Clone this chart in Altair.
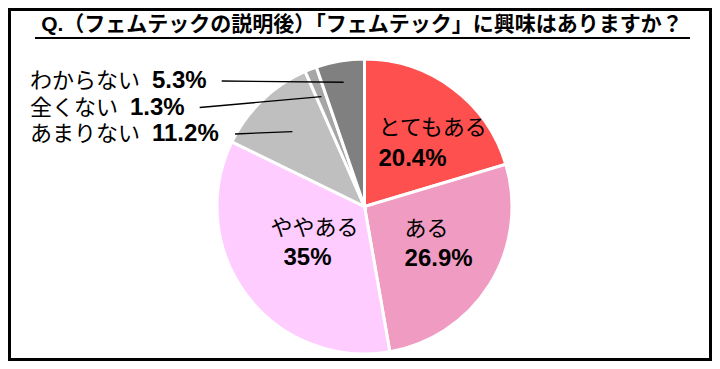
import math
import altair as alt
import pandas as pd

# ---- data -------------------------------------------------------------
categories = ["とてもある", "ある", "ややある", "あまりない", "全くない", "わからない"]
values = [20.4, 26.9, 35.0, 11.2, 1.3, 5.3]
colors = ["#FF5050", "#F09CC2", "#FFCCFF", "#BFBFBF", "#A6A6A6", "#808080"]
outside_labels = ["わからない", "全くない", "あまりない"]  # top to bottom
title_text = "Q.（フェムテックの説明後）「フェムテック」に興味はありますか？"

# ---- layout -----------------------------------------------------------
W, H = 704, 353
CX, CY = 356.5, 198.5
R = 147.5
FONT = "Liberation Sans, Noto Sans CJK JP"
NAME_SIZE = 22
PCT_SIZE = 24

df = pd.DataFrame({"category": categories, "value": values,
                   "order": list(range(len(categories)))})
df["pct"] = [f"{v:g}%" for v in values]

base = alt.Chart(df).encode(
    theta=alt.Theta("value:Q", stack=True),
    order=alt.Order("order:Q", sort="ascending"),
    x=alt.value(CX),
    y=alt.value(CY),
)

pie = base.mark_arc(outerRadius=R, stroke="white", strokeWidth=3).encode(
    color=alt.Color("category:N",
                    scale=alt.Scale(domain=categories, range=colors),
                    legend=None)
)

# labels inside the large slices
inside = {
    "とてもある": dict(radius=80, align="left", name=(-33.8, -14.8), pct=(-33.8, 16.2)),
    "ある": dict(radius=80, align="left", name=(-28, -20), pct=(-28, 10)),
    "ややある": dict(radius=80, align="center", name=(13.9, -27), pct=(6.9, 3)),
}
layers = [pie]
for cat, sp in inside.items():
    test = f"datum.category === '{cat}'"
    layers.append(
        base.mark_text(radius=sp["radius"], align=sp["align"], baseline="middle",
                       dx=sp["name"][0], dy=sp["name"][1], font=FONT,
                       fontSize=NAME_SIZE, color="black").encode(
            text=alt.condition(test, alt.Text("category:N"), alt.value(""))
        )
    )
    layers.append(
        base.mark_text(radius=sp["radius"], align=sp["align"], baseline="middle",
                       dx=sp["pct"][0], dy=sp["pct"][1], font=FONT,
                       fontSize=PCT_SIZE, fontWeight="bold", color="black").encode(
            text=alt.condition(test, alt.Text("pct:N"), alt.value(""))
        )
    )

# outside labels with leader lines
total = sum(values)
cum = 0.0
mids = {}
for c, v in zip(categories, values):
    mids[c] = (cum + v / 2) / total * 2 * math.pi
    cum += v

NAME_X = 22
LABEL_Y0, LABEL_STEP = 73, 26.5
GAP = 12
leader_r = {"わからない": 126, "全くない": 118, "あまりない": 104}


def pct_width(s, size):
    w = 0
    for ch in s:
        w += 0.556 if ch.isdigit() else (0.278 if ch == "." else 0.889)
    return w * size


rows = []
for i, c in enumerate(outside_labels):
    v = values[categories.index(c)]
    p = f"{v:g}%"
    ly = LABEL_Y0 + i * LABEL_STEP
    px = NAME_X + len(c) * NAME_SIZE + GAP
    sx = px + pct_width(p, PCT_SIZE) + 15
    a = mids[c]
    ex = CX + leader_r[c] * math.sin(a)
    ey = CY - leader_r[c] * math.cos(a)
    rows.append(dict(category=c, pct=p, ly=ly, nx=NAME_X, px=px,
                     sx=sx, sy=ly, ex=ex, ey=ey))
odf = pd.DataFrame(rows)
obase = alt.Chart(odf)

names = obase.mark_text(align="left", baseline="middle", font=FONT,
                        fontSize=NAME_SIZE, color="black").encode(
    x=alt.X("nx:Q", scale=None), y=alt.Y("ly:Q", scale=None), text="category:N")
pcts = obase.mark_text(align="left", baseline="middle", font=FONT,
                       fontSize=PCT_SIZE, fontWeight="bold", color="black").encode(
    x=alt.X("px:Q", scale=None), y=alt.Y("ly:Q", scale=None), text="pct:N")
leaders = obase.mark_rule(color="black", strokeWidth=1.3).encode(
    x=alt.X("sx:Q", scale=None), y=alt.Y("sy:Q", scale=None),
    x2="ex:Q", y2="ey:Q")
layers += [names, pcts, leaders]

# title, underline, border
one = alt.Chart(pd.DataFrame({"k": [0]}))
title = one.mark_text(text=title_text, align="center", baseline="middle",
                      font=FONT, fontSize=21, fontWeight="bold",
                      color="black").encode(x=alt.value(354), y=alt.value(17))
underline = one.mark_rule(color="black", strokeWidth=2).encode(
    x=alt.value(27), x2=alt.value(682), y=alt.value(30))
border = one.mark_rect(fillOpacity=0, stroke="black", strokeWidth=3).encode(
    x=alt.value(1.5), x2=alt.value(W - 1.5), y=alt.value(1.5), y2=alt.value(H - 1.5))
layers += [title, underline, border]

chart = alt.layer(*layers).properties(
    width=W, height=H, padding=0, autosize="none", background="white"
).configure_view(strokeWidth=0)

chart.save("out.html", embed_options={"renderer": "svg", "actions": False})
